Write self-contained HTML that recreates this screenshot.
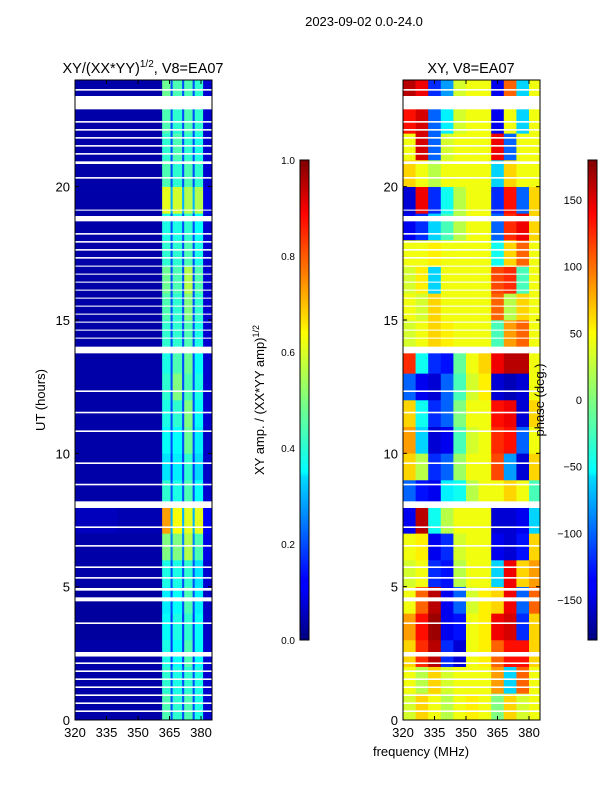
<!DOCTYPE html>
<html><head><meta charset="utf-8">
<style>
body{margin:0;background:#fff;font-family:"Liberation Sans","DejaVu Sans",sans-serif;}
svg text{font-family:"Liberation Sans","DejaVu Sans",sans-serif;fill:#000;}
</style></head>
<body>
<svg id="fig" width="600" height="800" viewBox="0 0 600 800" xmlns="http://www.w3.org/2000/svg">
<rect width="600" height="800" fill="#fff"/>
<text x="364" y="26" font-size="13" text-anchor="middle">2023-09-02 0.0-24.0</text>
<text x="143" y="73" font-size="14.5" text-anchor="middle">XY/(XX*YY)<tspan font-size="10" dy="-6">1/2</tspan><tspan dy="6">, V8=EA07</tspan></text>
<text x="471" y="73" font-size="14.5" text-anchor="middle">XY, V8=EA07</text>
<g id="left"></g>
<g id="right"></g>
<g id="axes"></g>
<defs>
<linearGradient id="jet" x1="0" y1="1" x2="0" y2="0">
<stop offset="0" stop-color="#00007f"/><stop offset="0.11" stop-color="#0000ff"/><stop offset="0.125" stop-color="#0000ff"/><stop offset="0.34" stop-color="#00dbff"/><stop offset="0.35" stop-color="#0ff"/><stop offset="0.5" stop-color="#7fff7f"/><stop offset="0.64" stop-color="#ff0"/><stop offset="0.66" stop-color="#ffe600"/><stop offset="0.89" stop-color="#ff0000"/><stop offset="1" stop-color="#7f0000"/>
</linearGradient>
</defs>
<rect x="300" y="160" width="9" height="480" fill="url(#jet)" stroke="#000" stroke-width="1"/>
<rect x="588" y="160" width="9" height="480" fill="url(#jet)" stroke="#000" stroke-width="1"/>
<text transform="translate(45,400) rotate(-90)" font-size="13" text-anchor="middle">UT (hours)</text>
<text transform="translate(264,400) rotate(-90)" font-size="13" text-anchor="middle">XY amp. / (XX*YY amp)<tspan font-size="9" dy="-5">1/2</tspan></text>
<text transform="translate(544,400) rotate(-90)" font-size="13" text-anchor="middle">phase (deg.)</text>
<text x="421" y="756" font-size="13" text-anchor="middle">frequency (MHz)</text>
</svg>
<script>
const ampFreqEdges=[320,340,361.5,365.5,366.5,371,372,376,377,381,385.2];
const phaseFreqEdges=[320,326,332,338,344,350,356,362,368,374,380,385.2];
const hourEdges=[0,1,2,3,4,5,6,7,8,9,10,11,12,13,14,15,16,17,18,19,20,21,22,23,24];
const ampRows=[
[0.04,0.04,0.45,0.2,0.42,0.2,0.45,0.2,0.4,0.08],
[0.04,0.04,0.42,0.2,0.4,0.2,0.42,0.2,0.4,0.08],
[0.04,0.04,0.4,0.18,0.38,0.18,0.45,0.18,0.38,0.08],
[0.03,0.03,0.38,0.18,0.4,0.18,0.42,0.18,0.38,0.07],
[0.03,0.03,0.36,0.2,0.38,0.2,0.45,0.2,0.36,0.07],
[0.04,0.04,0.4,0.2,0.4,0.2,0.42,0.2,0.35,0.08],
[0.04,0.04,0.5,0.25,0.5,0.25,0.55,0.25,0.45,0.1],
[0.06,0.05,0.72,0.3,0.62,0.3,0.6,0.3,0.6,0.12],
[0.04,0.04,0.42,0.2,0.4,0.2,0.45,0.2,0.38,0.08],
[0.04,0.04,0.35,0.18,0.36,0.18,0.42,0.18,0.34,0.07],
[0.04,0.04,0.38,0.2,0.38,0.2,0.48,0.2,0.36,0.07],
[0.04,0.04,0.4,0.2,0.42,0.2,0.5,0.2,0.38,0.08],
[0.04,0.04,0.42,0.2,0.5,0.2,0.45,0.2,0.4,0.08],
[0.04,0.04,0.4,0.2,0.45,0.2,0.48,0.2,0.38,0.08],
[0.04,0.04,0.42,0.2,0.42,0.2,0.45,0.2,0.4,0.08],
[0.04,0.04,0.45,0.2,0.42,0.2,0.5,0.2,0.42,0.08],
[0.04,0.04,0.48,0.2,0.45,0.2,0.55,0.2,0.45,0.08],
[0.04,0.04,0.42,0.2,0.42,0.2,0.45,0.2,0.4,0.08],
[0.04,0.04,0.4,0.2,0.4,0.2,0.42,0.2,0.38,0.08],
[0.04,0.04,0.6,0.3,0.58,0.3,0.55,0.3,0.55,0.1],
[0.04,0.04,0.45,0.2,0.42,0.2,0.45,0.2,0.42,0.08],
[0.04,0.04,0.42,0.2,0.45,0.2,0.42,0.2,0.4,0.08],
[0.04,0.04,0.45,0.2,0.42,0.2,0.45,0.2,0.42,0.08],
[0.04,0.04,0.48,0.2,0.45,0.2,0.45,0.2,0.42,0.08]
];
const phaseRows=[
[30,60,40,20,40,50,40,0,60,30,40],
[40,20,60,30,40,40,40,80,-60,100,40],
[60,120,160,-120,-150,40,50,100,130,130,60],
[80,130,170,-140,-130,40,50,140,150,-120,60],
[40,100,160,-140,-100,30,50,60,140,-100,100],
[30,40,-120,-130,20,40,40,-60,140,60,80],
[40,50,-140,-120,30,40,40,-140,-150,-130,60],
[-140,160,-40,20,40,40,40,-150,-150,-140,-60],
[-100,-130,-140,-50,-40,20,40,40,60,40,-20],
[60,20,-120,-100,10,40,40,110,-80,-150,60],
[80,-60,-150,-140,-20,30,40,120,130,-100,40],
[60,-40,-120,-100,0,40,40,130,140,-150,60],
[-100,-140,-150,-100,-20,30,50,-150,-160,-150,40],
[120,-40,-120,-130,-10,40,60,140,160,160,40],
[30,40,60,50,40,40,40,-20,80,100,40],
[40,30,60,40,40,40,40,100,20,60,40],
[30,50,-60,40,40,40,40,110,120,-20,40],
[40,40,50,40,40,40,40,-40,60,100,40],
[-140,-120,-60,-20,20,40,40,-100,120,140,60],
[-150,140,-120,-40,20,40,40,-120,130,-100,60],
[60,40,20,40,40,40,40,-60,60,40,40],
[40,150,-100,30,40,40,40,140,-100,40,40],
[130,150,-100,-50,30,40,40,-140,40,-60,40],
[160,140,-120,-80,30,40,40,-140,100,-60,40]
];
const gapStarts=[0.3,0.6,0.9,1.2,1.5,1.8,2.1,2.38,3.6,4.45,4.85,5.3,5.7,6.5,7.2,7.95,8.8,9.6,10.8,11.5,12.3,13.75,14.3,14.6,14.9,15.2,15.5,15.8,16.1,16.4,16.7,17.0,17.3,17.6,17.9,18.2,18.7,19.1,20.3,20.85,21.2,21.5,21.8,22.1,22.4,22.9,23.6];
const gapEnds=[0.36,0.66,0.96,1.26,1.56,1.86,2.16,2.55,3.66,4.6,4.95,5.36,5.76,6.56,7.26,8.2,8.86,9.66,10.86,11.56,12.36,14.0,14.34,14.64,14.94,15.24,15.54,15.84,16.14,16.44,16.74,17.04,17.36,17.66,17.96,18.26,18.9,19.14,20.36,20.95,21.26,21.56,21.86,22.16,22.46,23.4,23.66];
const xTicks=[320,335,350,365,380];
const yTicks=[0,5,10,15,20];
const ampTicks=[0.0,0.2,0.4,0.6,0.8,1.0];
const phaseTicks=[-150,-100,-50,0,50,100,150];

const NS="http://www.w3.org/2000/svg";
function jet(v){v=Math.max(0,Math.min(1,v));
 const f=(x)=>Math.max(0,Math.min(1,x));
 const r=f(1.5-Math.abs(4*v-3)),g=f(1.5-Math.abs(4*v-2)),b=f(1.5-Math.abs(4*v-1));
 return `rgb(${Math.round(r*255)},${Math.round(g*255)},${Math.round(b*255)})`;}
const yScale=h=>720-h*(640/24);
function xScale(f,x0){return x0+(f-320)*2.1;}
function mk(tag,attrs,parent){const e=document.createElementNS(NS,tag);for(const k in attrs)e.setAttribute(k,attrs[k]);parent.appendChild(e);return e;}
function panel(g,x0,edges,rows,norm,name){
 rows.forEach((row,ri)=>{row.forEach((v,ci)=>{
  const xa=xScale(edges[ci],x0),xb=xScale(edges[ci+1],x0);
  const ya=yScale(hourEdges[ri+1]),yb=yScale(hourEdges[ri]);
  const r=mk('rect',{x:xa,y:ya,width:xb-xa+0.3,height:yb-ya+0.3,fill:jet(norm(v))},g);
  
  
 });});
 gapStarts.forEach((s,i)=>{
  const r=mk('rect',{x:x0,y:yScale(gapEnds[i]),width:137,height:yScale(s)-yScale(gapEnds[i]),fill:'#fff'},g);
  
  
 });
}
panel(document.getElementById('left'),75,ampFreqEdges,ampRows,v=>v,'amp-cell');
panel(document.getElementById('right'),403,phaseFreqEdges,phaseRows,v=>(v+180)/360,'phase-cell');
const ax=document.getElementById('axes');
[75,403].forEach((x0,pi)=>{
 const fr=mk('rect',{x:x0,y:80,width:137,height:640,fill:'none',stroke:'#000','stroke-width':1},ax);
 
 
 xTicks.forEach(t=>{const x=xScale(t,x0);
  mk('line',{x1:x,x2:x,y1:720,y2:716,stroke:'#000'},ax);mk('line',{x1:x,x2:x,y1:80,y2:84,stroke:'#000'},ax);
  const tx=mk('text',{x:x,y:737,'font-size':13,'text-anchor':'middle'},ax);tx.textContent=t;
  
  });
 yTicks.forEach(t=>{const y=yScale(t);
  mk('line',{x1:x0,x2:x0+4,y1:y,y2:y,stroke:'#000'},ax);mk('line',{x1:x0+133,x2:x0+137,y1:y,y2:y,stroke:'#000'},ax);
  const tx=mk('text',{x:x0-5,y:y+5,'font-size':13,'text-anchor':'end'},ax);tx.textContent=t;
  
  });
});
ampTicks.forEach(t=>{const y=640-t*480;
 mk('line',{x1:305,x2:309,y1:y,y2:y,stroke:'#000'},ax);
 const tx=mk('text',{x:295,y:y+4,'font-size':10,'text-anchor':'end'},ax);tx.textContent=t.toFixed(1);
 
 });
phaseTicks.forEach(t=>{const y=400-t*(480/360);
 mk('line',{x1:593,x2:597,y1:y,y2:y,stroke:'#000'},ax);
 const tx=mk('text',{x:582,y:y+4,'font-size':11,'text-anchor':'end'},ax);tx.textContent=t<0?'\u2212'+(-t):t;
 
 });
</script>
</body></html>
